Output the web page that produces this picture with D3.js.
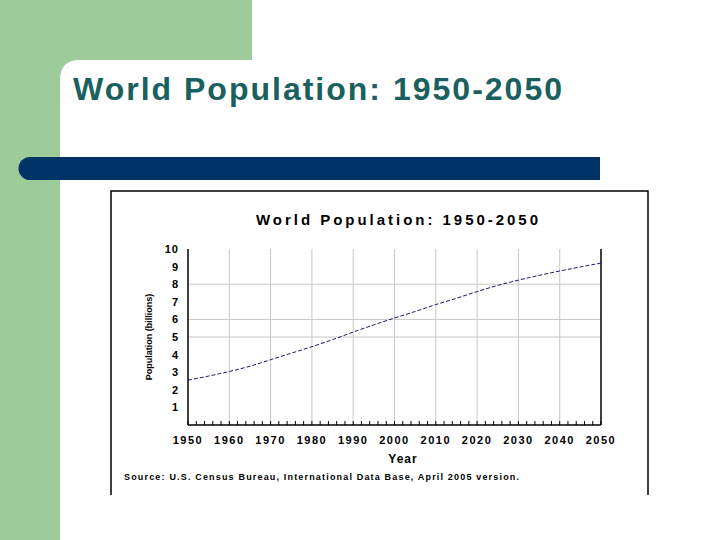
<!DOCTYPE html>
<html><head><meta charset="utf-8">
<script src="https://cdn.jsdelivr.net/npm/d3@7"></script>
<style>body{margin:0;background:#fff}</style>
</head><body>
<script>
// World population, billions (U.S. Census Bureau IDB)
var years = [1950,1955,1960,1965,1970,1975,1980,1985,1990,1995,2000,2005,2010,2015,2020,2025,2030,2035,2040,2045,2050];
var population = [2.55,2.78,3.04,3.34,3.71,4.08,4.45,4.85,5.28,5.69,6.08,6.45,6.84,7.2,7.58,7.93,8.23,8.5,8.75,8.98,9.2];
var yTicks = [1,2,3,4,5,6,7,8,9,10];
var yGrid = [5,6,8];

var svg = d3.select('body').append('svg').attr('width',720).attr('height',540);

// Slide decoration
svg.append('rect').attr('x',0).attr('y',0).attr('width',60).attr('height',540).attr('fill','#9dcc9a');
svg.append('rect').attr('x',0).attr('y',0).attr('width',252).attr('height',60).attr('fill','#9dcc9a');
svg.append('path').attr('d','M60,80 Q60,60 80,60 L60,60 Z').attr('fill','#9dcc9a');
svg.append('path').attr('d','M30,157 L600,157 L600,180 L30,180 A11.5,11.5 0 0 1 30,157 Z').attr('fill','#003366');
svg.append('text').attr('x',73).attr('y',100).attr('fill','#19605f').attr('textLength',489)
  .style('font','bold 32px "Liberation Sans", Arial, sans-serif').text('World Population: 1950-2050');

// Chart frame
svg.append('path').attr('d','M111,495 L111,191 L648,191 L648,495').attr('fill','none').attr('stroke','#000').attr('stroke-width',1.5);

var x = d3.scaleLinear().domain([1950,2050]).range([188,601]);
var y = d3.scaleLinear().domain([0,10]).range([425,249]);
var font = '"Liberation Sans", Arial, sans-serif';

svg.append('text').attr('x',256).attr('y',225).attr('textLength',282)
  .style('font','bold 15px '+font).text('World Population: 1950-2050');

var g = svg.append('g');
g.selectAll('.vg').data(d3.range(1960,2050,10)).enter().append('line')
  .attr('x1',d=>x(d)).attr('x2',d=>x(d)).attr('y1',y(10)).attr('y2',y(0)).attr('stroke','#c8c8c8');
g.selectAll('.hg').data(yGrid).enter().append('line')
  .attr('x1',x(1950)).attr('x2',x(2050)).attr('y1',d=>y(d)).attr('y2',d=>y(d)).attr('stroke','#c8c8c8');

// axes
g.append('line').attr('x1',x(1950)).attr('x2',x(1950)).attr('y1',y(10)).attr('y2',y(0)).attr('stroke','#000').attr('stroke-width',1.5);
g.append('line').attr('x1',x(2050)).attr('x2',x(2050)).attr('y1',y(10)).attr('y2',y(0)).attr('stroke','#000').attr('stroke-width',1.5);
g.append('line').attr('x1',x(1950)).attr('x2',x(2050)).attr('y1',y(0)).attr('y2',y(0)).attr('stroke','#000').attr('stroke-width',1.5);
g.selectAll('.mt').data(d3.range(1950,2051,2)).enter().append('line')
  .attr('x1',d=>x(d)).attr('x2',d=>x(d)).attr('y1',y(0)).attr('y2',y(0)-4).attr('stroke','#000');

g.selectAll('.yl').data(yTicks).enter().append('text')
  .attr('x',179).attr('y',d=>y(d)+4).attr('text-anchor','end')
  .style('font','bold 11px '+font).style('letter-spacing','1px').text(d=>d);
g.selectAll('.xl').data(d3.range(1950,2051,10)).enter().append('text')
  .attr('x',d=>x(d)).attr('y',444).attr('text-anchor','middle')
  .style('font','bold 11px '+font).style('letter-spacing','1.5px').text(d=>d);
svg.append('text').attr('x',403).attr('y',463).attr('text-anchor','middle').style('font','bold 12px '+font).style('letter-spacing','1px').text('Year');
svg.append('text').attr('transform','translate(152,337) rotate(-90)').attr('text-anchor','middle')
  .style('font','bold 9px "Liberation Sans Narrow", Arial, sans-serif').text('Population (billions)');
svg.append('text').attr('x',124).attr('y',480).attr('textLength',395).style('font','bold 9px '+font).text('Source: U.S. Census Bureau, International Data Base, April 2005 version.');

var line = d3.line().x((d,i)=>x(years[i])).y(d=>y(d)).curve(d3.curveMonotoneX);
svg.append('path').datum(population).attr('d',line).attr('fill','none')
  .attr('stroke','#1a1a66').attr('stroke-width',1).attr('stroke-dasharray','4,2');
</script>
</body></html>
